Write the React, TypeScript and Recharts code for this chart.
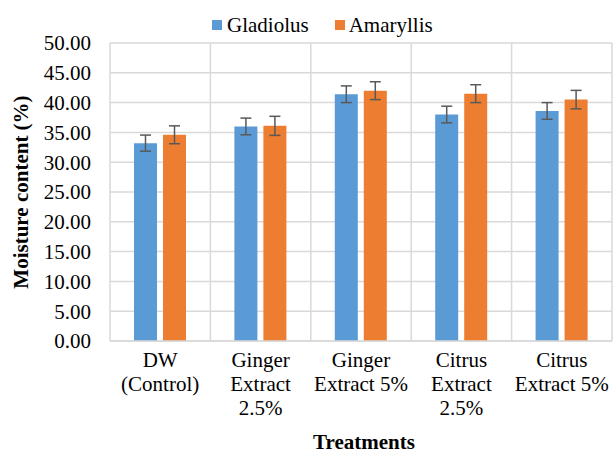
import React from 'react';
import {
  BarChart,
  Bar,
  XAxis,
  YAxis,
  CartesianGrid,
  Legend,
  ErrorBar
} from 'recharts';

const treatments = [
  'DW|(Control)',
  'Ginger|Extract|2.5%',
  'Ginger|Extract 5%',
  'Citrus|Extract|2.5%',
  'Citrus|Extract 5%'
];
const gladiolus = [33.2, 36.0, 41.4, 38.0, 38.6];
const gladiolusErr = [1.35, 1.4, 1.4, 1.4, 1.4];
const amaryllis = [34.6, 36.1, 42.0, 41.5, 40.5];
const amaryllisErr = [1.5, 1.6, 1.5, 1.5, 1.55];
const yTicks = [0, 5, 10, 15, 20, 25, 30, 35, 40, 45, 50];

const data = treatments.map((name, i) => ({
  name,
  gladiolus: gladiolus[i],
  gErr: gladiolusErr[i],
  amaryllis: amaryllis[i],
  aErr: amaryllisErr[i]
}));

const FONT = 'Liberation Serif';
const FS = 21;
const BLUE = '#5b9bd5';
const ORANGE = '#ed7d31';
const GRID = '#d9d9d9';

const XTick = (props: any) => {
  const { x, y, payload } = props;
  const lines = String(payload.value).split('|');
  return (
    <text x={x} y={y + 24} textAnchor="middle" fontFamily={FONT} fontSize={FS} fill="#000">
      {lines.map((l, i) => (
        <tspan key={i} x={x} dy={i === 0 ? 0 : 24}>{l}</tspan>
      ))}
    </text>
  );
};

const LegendBox = () => (
  <div style={{ height: 43, position: 'relative', fontFamily: FONT, fontSize: FS, color: '#000' }}>
    <div style={{ position: 'absolute', left: 212, top: 13, display: 'flex', alignItems: 'center', height: 24 }}>
      <span style={{ width: 10, height: 10, background: BLUE, display: 'inline-block', marginRight: 5 }} />
      <span style={{ marginRight: 26 }}>Gladiolus</span>
      <span style={{ width: 10, height: 10, background: ORANGE, display: 'inline-block', marginRight: 4 }} />
      <span>Amaryllis</span>
    </div>
  </div>
);

export default function App() {
  return (
    <div style={{ position: 'absolute', left: 0, top: 0, width: 613, height: 454, background: '#fff', fontFamily: FONT }}>
      <BarChart
        width={613}
        height={454}
        data={data}
        margin={{ top: 0, right: 1, left: 0, bottom: 0 }}
        barSize={23}
        barGap={6}
        style={{ fontFamily: FONT }}
      >
        <Legend
          verticalAlign="top"
          content={() => <LegendBox />}
          wrapperStyle={{ left: 0, top: 0, width: 613 }}
        />
        <CartesianGrid
          stroke={GRID}
          strokeWidth={1.5}
          verticalCoordinatesGenerator={({ offset }: any) =>
            [0, 1, 2, 3, 4, 5].map((i) => offset.left + (i * offset.width) / 5)
          }
        />
        <XAxis
          dataKey="name"
          height={113}
          tickLine={false}
          tickSize={0}
          axisLine={{ stroke: GRID, strokeWidth: 1.5 }}
          tick={<XTick />}
          interval={0}
          label={(p: any) => {
            const vb = p.viewBox;
            return (
              <text
                x={vb.x + vb.width / 2 + 3}
                y={vb.y + 108}
                textAnchor="middle"
                fontFamily={FONT}
                fontSize={FS}
                fontWeight="bold"
                fill="#000"
              >
                Treatments
              </text>
            );
          }}
        />
        <YAxis
          width={110}
          domain={[0, 50]}
          ticks={yTicks}
          interval={0}
          axisLine={false}
          tickLine={false}
          tickMargin={13}
          tickFormatter={(v: number) => v.toFixed(2)}
          tick={{ fontFamily: FONT, fontSize: FS, fill: '#000' }}
          label={(p: any) => {
            const vb = p.viewBox;
            const cx = 21;
            const cy = vb.y + vb.height / 2;
            return (
              <text
                x={cx}
                y={cy}
                transform={`rotate(-90 ${cx} ${cy})`}
                textAnchor="middle"
                dominantBaseline="central"
                fontFamily={FONT}
                fontSize={FS}
                fontWeight="bold"
                fill="#000"
              >
                Moisture content (%)
              </text>
            );
          }}
        />
        <Bar dataKey="gladiolus" fill={BLUE} isAnimationActive={false}>
          <ErrorBar dataKey="gErr" width={5.5} stroke="#595959" strokeWidth={1.5} />
        </Bar>
        <Bar dataKey="amaryllis" fill={ORANGE} isAnimationActive={false}>
          <ErrorBar dataKey="aErr" width={5.5} stroke="#595959" strokeWidth={1.5} />
        </Bar>
      </BarChart>
    </div>
  );
}
